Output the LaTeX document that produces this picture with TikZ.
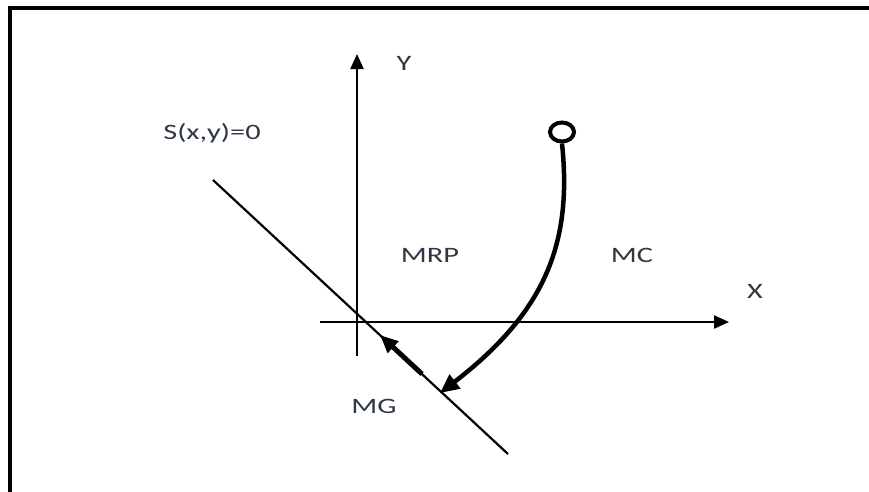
\documentclass[tikz,border=0pt]{standalone}
\usepackage{fontspec}
\setmainfont{Carlito}
\newfontfamily\lblfont[FakeStretch=1.38]{Carlito}
\usetikzlibrary{arrows.meta,shapes.geometric}
\definecolor{lblcol}{HTML}{2E3842}
\tikzset{
  lbl/.style={font=\lblfont\fontsize{22}{25}\selectfont, text=lblcol, inner sep=0pt},
  axis/.style={line width=2.2pt, -{Triangle[length=15pt,width=13pt]}},
  frameline/.style={line width=4pt},
  thinline/.style={line width=2.2pt},
  thickarrow/.style={line width=4.5pt, -{Triangle[length=19pt,width=17pt]}},
}
\begin{document}
\begin{tikzpicture}[x=1pt,y=-1pt]
\useasboundingbox (0,0) rectangle (869,491);
% frame (top and left only)
\coordinate (fbl) at (10,493);
\coordinate (ftl) at (10,8);
\coordinate (ftr) at (871,8);
\draw[frameline] (fbl) -- (ftl) -- (ftr);
% axes
\coordinate (ybot) at (357,356);
\coordinate (ytop) at (357,54);
\coordinate (xleft) at (320,322);
\coordinate (xright) at (729,322);
\draw[axis] (ybot) -- (ytop);
\draw[axis] (xleft) -- (xright);
% switching line S(x,y)=0
\coordinate (sA) at (213,180);
\coordinate (sB) at (508,454);
\draw[thinline] (sA) -- (sB);
% start point
\node (start) at (562,132) [draw, ellipse, line width=4pt, minimum width=24pt, minimum height=19pt, inner sep=0pt] {};
% reaching trajectory
\coordinate (hit) at (440,393);
\draw[thickarrow] (start.south) .. controls (572,240) and (548,310) .. (hit);
% sliding motion toward origin
\coordinate (slA) at (422,374);
\coordinate (slB) at (380,335);
\draw[line width=5pt, -{Triangle[length=18pt,width=15pt]}] (slA) -- (slB);
% labels
\node[lbl] (ylab) at (404,63) {Y};
\node[lbl] (xlab) at (755,291) {X};
\node[lbl] (slab) at (212,133) {S(x,y)=0};
\node[lbl] (mrp) at (430,255) {MRP};
\node[lbl] (mc) at (632,255) {MC};
\node[lbl] (mg) at (374,406) {MG};
\end{tikzpicture}
\end{document}
